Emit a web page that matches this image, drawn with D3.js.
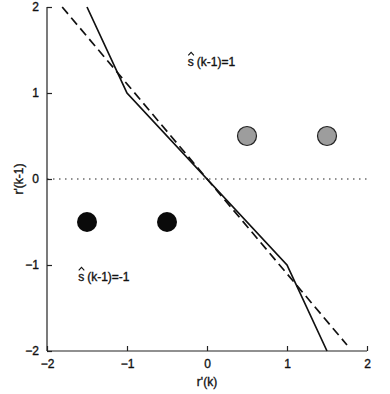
<!DOCTYPE html>
<html>
<head>
<meta charset="utf-8">
<script src="https://cdn.jsdelivr.net/npm/d3@7"></script>
<style>
  body { margin: 0; background: #fff; }
  svg text { font-family: "Liberation Sans", Arial, sans-serif; fill: #111; stroke: #111; stroke-width: 0.35; }
</style>
</head>
<body>
<div id="chart"></div>
<script>
// decision boundary (solid), linear approximation (dashed), signal points
const boundaryX = [-1.5, -1, 1, 1.5];
const boundaryY = [2, 1, -1, -2];
const approxX = [-1.81, 1.75];
const approxY = [2, -1.93];
const zeroLineX = [-2, 2];
const grayPointsX = [0.5, 1.5];
const grayPointsY = [0.5, 0.5];
const blackPointsX = [-1.5, -0.5];
const blackPointsY = [-0.5, -0.5];
const tickValues = [-2, -1, 0, 1, 2];

const width = 390, height = 394;
const margin = { top: 7, right: 23, bottom: 43, left: 47 };

const svg = d3.select("#chart").append("svg")
    .attr("width", width)
    .attr("height", height);

const x = d3.scaleLinear().domain([-2, 2]).range([margin.left, width - margin.right]);
const y = d3.scaleLinear().domain([-2, 2]).range([height - margin.bottom, margin.top]);

const styleAxis = g => {
    g.selectAll("line, path").attr("stroke", "#222").attr("stroke-width", 1.2);
    g.selectAll("text").attr("font-size", 12).attr("font-family", null).attr("fill", null);
};

// axes: ticks point inward
svg.append("g")
    .attr("transform", `translate(0,${y(-2)})`)
    .call(d3.axisBottom(x).tickValues(tickValues).tickSize(-5).tickPadding(8).tickFormat(d3.format("d")))
    .call(g => g.select(".domain").attr("d", `M${x(-2)},0H${x(2)}`))
    .call(styleAxis);

svg.append("g")
    .attr("transform", `translate(${x(-2)},0)`)
    .call(d3.axisLeft(y).tickValues(tickValues).tickSize(-5).tickPadding(8).tickFormat(d3.format("d")))
    .call(g => g.select(".domain").attr("d", `M0,${y(-2)}V${y(2)}`))
    .call(styleAxis);

const line = d3.line().x(d => x(d[0])).y(d => y(d[1]));

// dotted zero line
svg.append("path")
    .attr("d", line(zeroLineX.map(v => [v, 0])))
    .attr("fill", "none")
    .attr("stroke", "#222")
    .attr("stroke-width", 1.2)
    .attr("stroke-dasharray", "1.5,4.5");

// dashed approximation
svg.append("path")
    .attr("d", line(approxX.map((v, i) => [v, approxY[i]])))
    .attr("fill", "none")
    .attr("stroke", "#111")
    .attr("stroke-width", 1.7)
    .attr("stroke-dasharray", "9,5");

// solid piecewise boundary
svg.append("path")
    .attr("d", line(boundaryX.map((v, i) => [v, boundaryY[i]])))
    .attr("fill", "none")
    .attr("stroke", "#111")
    .attr("stroke-width", 1.7);

svg.selectAll("circle.gray")
    .data(grayPointsX.map((v, i) => [v, grayPointsY[i]]))
    .join("circle")
    .attr("class", "gray")
    .attr("cx", d => x(d[0]))
    .attr("cy", d => y(d[1]))
    .attr("r", 9.5)
    .attr("fill", "#9d9d9d")
    .attr("stroke", "#222")
    .attr("stroke-width", 1.2);

svg.selectAll("circle.black")
    .data(blackPointsX.map((v, i) => [v, blackPointsY[i]]))
    .join("circle")
    .attr("class", "black")
    .attr("cx", d => x(d[0]))
    .attr("cy", d => y(d[1]))
    .attr("r", 10)
    .attr("fill", "#0a0a0a");

// region labels: "s" with a hat drawn above it
function hatLabel(px, py, rest) {
    const t = svg.append("text")
        .attr("x", px)
        .attr("y", py)
        .attr("font-size", 12);
    t.append("tspan").text("s");
    t.append("tspan").attr("dx", 3).text(rest);
    svg.append("path")
        .attr("d", `M${px + 0.5},${py - 11}L${px + 3.3},${py - 14}L${px + 6.1},${py - 11}`)
        .attr("fill", "none")
        .attr("stroke", "#111")
        .attr("stroke-width", 1.1);
}
hatLabel(x(-0.24), y(1.31), "(k-1)=1");
hatLabel(x(-1.61), y(-1.19), "(k-1)=-1");

// axis titles
svg.append("text")
    .attr("x", x(0))
    .attr("y", 386)
    .attr("text-anchor", "middle")
    .attr("font-size", 12)
    .text("r'(k)");

svg.append("text")
    .attr("transform", `translate(23,${y(0)}) rotate(-90)`)
    .attr("text-anchor", "middle")
    .attr("font-size", 12)
    .text("r'(k-1)");
</script>
</body>
</html>
